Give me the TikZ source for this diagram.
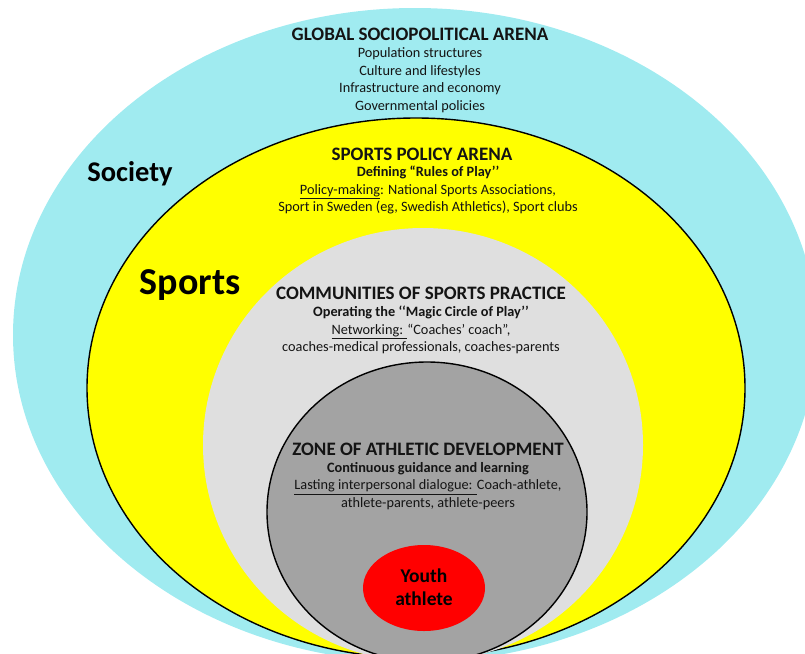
\documentclass[tikz,border=0pt]{standalone}
\usepackage{fontspec}
\setmainfont{Carlito}
\usetikzlibrary{shapes.geometric}
\definecolor{societycyan}{HTML}{A0EBF0}
\definecolor{sportsyellow}{HTML}{FFFF00}
\definecolor{practicegray}{HTML}{DFDFDF}
\definecolor{zonegray}{HTML}{A3A3A3}
\definecolor{athletered}{HTML}{FF0000}
\definecolor{inktext}{HTML}{141414}
\begin{document}
\begin{tikzpicture}[x=1pt,y=-1pt,
  ring/.style={ellipse, inner sep=0pt, outer sep=0pt},
  rim/.style={draw=black, line width=1.4pt},
  heading/.style={inner sep=0pt, text=inktext, font=\bfseries\fontsize{19}{22}\selectfont},
  body/.style={inner sep=0pt, align=center, text=inktext, font=\fontsize{14.3}{17.6}\selectfont},
  bigword/.style={inner sep=0pt, text=black, font=\bfseries\fontsize{#1}{#1}\selectfont},
]
\useasboundingbox (0,0) rectangle (805,653);
\clip (0,0) rectangle (805,653);

% nested arenas, outermost first
\node[ring, fill=societycyan, minimum width=804pt, minimum height=654pt] (society) at (415,335) {};
\node[ring, rim, fill=sportsyellow, minimum width=658pt, minimum height=540pt] (sports) at (416,388) {};
\node[ring, fill=practicegray, minimum width=440pt, minimum height=434pt] (practice) at (423,445) {};
\node[ring, rim, fill=zonegray, minimum width=320pt, minimum height=300pt] (zone) at (427,512) {};
\node[ring, fill=athletered, minimum width=122pt, minimum height=86pt] (athlete) at (424,588) {};

% global sociopolitical arena
\node[heading] (globalhead) at (420,34) {GLOBAL SOCIOPOLITICAL ARENA};
\node[body] (globalbody) at (420,80) {Population structures\\Culture and lifestyles\\Infrastructure and economy\\Governmental policies};
\node[bigword=28.5] (societylabel) at (130,174) {Society};

% sports policy arena
\node[heading] (policyhead) at (422,154) {SPORTS POLICY ARENA};
\node[body] (policybody) at (428,190) {\textbf{Defining “Rules of Play’’}\\\underline{Policy-making}: National Sports Associations,\\Sport in Sweden (eg, Swedish Athletics), Sport clubs};
\node[bigword=38] (sportslabel) at (190,285) {Sports};

% communities of sports practice
\node[heading] (practicehead) at (421,293) {COMMUNITIES OF SPORTS PRACTICE};
\node[body] (practicebody) at (421,330) {\textbf{Operating the ‘‘Magic Circle of Play’’}\\\underline{Networking: }“Coaches’ coach”,\\coaches-medical professionals, coaches-parents};

% zone of athletic development
\node[heading] (zonehead) at (428,449) {ZONE OF ATHLETIC DEVELOPMENT};
\node[body] (zonebody) at (428,486) {\textbf{Continuous guidance and learning}\\\underline{Lasting interpersonal dialogue: }Coach-athlete,\\athlete-parents, athlete-peers};

% the athlete at the core
\node[inner sep=0pt, align=center, font=\bfseries\fontsize{19.5}{23}\selectfont] (athletelabel) at (424,587) {Youth\\athlete};
\end{tikzpicture}
\end{document}
